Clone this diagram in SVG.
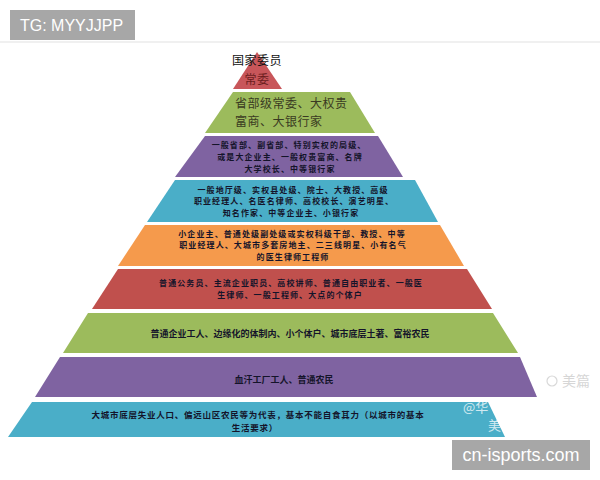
<svg xmlns="http://www.w3.org/2000/svg" width="600" height="480" viewBox="0 0 600 480">
<style>
.t{font-family:"Noto Sans CJK SC","Liberation Sans",sans-serif;font-size:8px;letter-spacing:1.1px;font-weight:bold;fill:#14142a;text-anchor:middle}
.t1{font-family:"Noto Sans CJK SC","Liberation Sans",sans-serif;font-size:9px;font-weight:bold;fill:#14142a;text-anchor:middle}
.big{font-family:"Noto Sans CJK SC","Liberation Sans",sans-serif;font-size:12px;letter-spacing:0.5px;fill:#3a3a22}
.tag{fill:#a7a7a7}
.tagt{font-family:"Liberation Sans",Arial,sans-serif;fill:#ffffff}
.wm{font-family:"Noto Sans CJK SC","Liberation Sans",sans-serif;fill:#ffffff;opacity:0.75}
</style>
<rect width="600" height="480" fill="#ffffff"/>
<line x1="0" y1="42" x2="600" y2="42" stroke="#f0f0f0" stroke-width="2"/>
<g id="tier1">
<polygon points="257,52 282,89 233,89" fill="#c8565a"/>
<text class="big" text-anchor="middle"><tspan x="257" y="65" style="fill:#111">国家委员</tspan><tspan x="257" y="84" style="fill:#6b1d1d">常委</tspan></text>
</g>
<g id="tier2">
<polygon points="233,92 350,92 375,133 205,133" fill="#9cbb5c"/>
<text class="big"><tspan x="235" y="108">省部级常委、大权贵</tspan><tspan x="235" y="126">富商、大银行家</tspan></text>
</g>
<g id="tier3">
<polygon points="205,136 378,136 403,177 175,177" fill="#7f63a1"/>
<text class="t"><tspan x="289" y="148.3">一般省部、副省部、特别实权的局级、</tspan><tspan x="290" y="159.9">或是大企业主、一般权贵富商、名牌</tspan><tspan x="290" y="171.5">大学校长、中等银行家</tspan></text>
</g>
<g id="tier4">
<polygon points="175,180 415,180 438,222 147,222" fill="#4aaec8"/>
<text class="t"><tspan x="293" y="192.5">一般地厅级、实权县处级、院士、大教授、高级</tspan><tspan x="294" y="204">职业经理人、名医名律师、高校校长、演艺明星、</tspan><tspan x="291" y="215.5">知名作家、中等企业主、小银行家</tspan></text>
</g>
<g id="tier5">
<polygon points="145,225 440,225 464,266 118,266" fill="#f59a4c"/>
<text class="t"><tspan x="292" y="236.5">小企业主、普通处级副处级或实权科级干部、教授、中等</tspan><tspan x="293" y="248">职业经理人、大城市多套房地主、二三线明星、小有名气</tspan><tspan x="293" y="259.5">的医生律师工程师</tspan></text>
</g>
<g id="tier6">
<polygon points="118,269 467,269 492,309 92,309" fill="#c0504d"/>
<text class="t"><tspan x="291" y="286">普通公务员、主流企业职员、高校讲师、普通自由职业者、一般医</tspan><tspan x="290" y="297.6">生律师、一般工程师、大点的个体户</tspan></text>
</g>
<g id="tier7">
<polygon points="88,313 493,313 518,353 63,353" fill="#9cbb5c"/>
<text class="t1" x="290" y="336.5">普通企业工人、边缘化的体制内、小个体户、城市底层土著、富裕农民</text>
</g>
<g id="tier8">
<polygon points="60,357 520,357 537,397 35,397" fill="#7f63a1"/>
<text class="t1" x="284" y="382.5">血汗工厂工人、普通农民</text>
</g>
<g id="tier9">
<polygon points="32,402 488,402 505,437 8,437" fill="#4aaec8"/>
<text class="t1" style="font-size:8.5px;letter-spacing:0.75px"><tspan x="258" y="417.5">大城市底层失业人口、偏远山区农民等为代表，基本不能自食其力（以城市的基本</tspan><tspan x="255" y="430.5">生活要求）</tspan></text>
<text class="wm" x="463" y="412" font-size="13">@华</text>
<text class="wm" x="488" y="430" font-size="13">美</text>
</g>
<g id="watermark">
<circle cx="552" cy="381" r="5" fill="none" stroke="#d8d8d8" stroke-width="1.2"/>
<text x="562" y="386" font-family="'Noto Sans CJK SC',sans-serif" font-size="14" fill="#d6d6d6">美篇</text>
</g>
<g id="tag-top">
<rect class="tag" x="10" y="10" width="125" height="30"/>
<text class="tagt" x="20" y="31" font-size="16">TG: MYYJJPP</text>
</g>
<g id="tag-bottom">
<rect class="tag" x="452" y="440" width="138" height="30"/>
<text class="tagt" x="521" y="461" font-size="18" text-anchor="middle">cn-isports.com</text>
</g>
<g id="connectors"/>
</svg>
